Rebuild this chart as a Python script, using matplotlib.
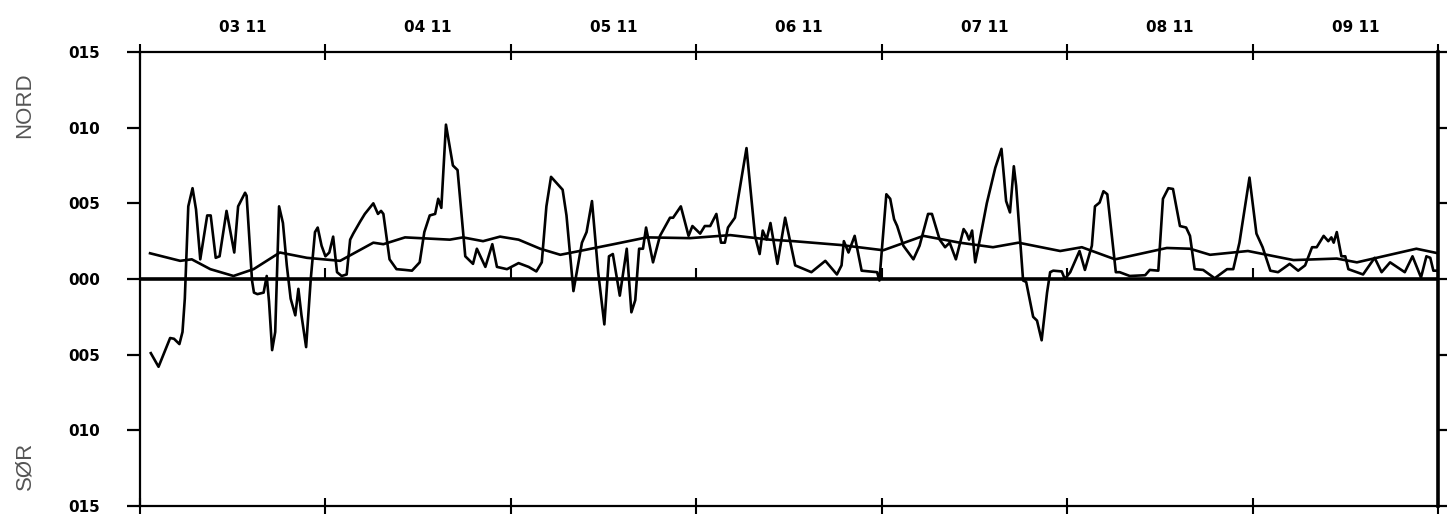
import numpy as np
import matplotlib
matplotlib.use('Agg')
import matplotlib.pyplot as plt

# hours from 03.11 00:00, current values (raw)
raw_t = [1.4, 2.4, 3.9, 4.4, 5.1, 5.5, 5.8, 6.25, 6.8, 7.25, 7.8, 8.7, 9.15, 9.8, 10.3,
         11.2, 12.2, 12.7, 13.6, 13.8, 14.5, 14.75, 15.2, 16.0, 16.4, 16.7, 17.1, 17.5,
         18.0, 18.5, 19.0, 19.5, 20.1, 20.5, 20.9, 21.5, 22.1, 22.65, 23.0, 23.5, 24.0,
         24.5, 25.0, 25.5, 26.1, 26.75, 27.2, 27.6, 28.5, 29.1, 30.2, 30.8, 31.2, 31.5,
         32.3, 33.2, 34.3, 35.2, 36.2, 36.8, 37.5, 38.2, 38.6, 39.0, 39.6, 40.5, 41.1,
         42.1, 43.1, 43.6, 44.7, 45.6, 46.2, 47.5, 49.0, 50.3, 51.3, 52.0, 52.6, 53.2,
         54.7, 55.2, 56.1, 57.2, 57.8, 58.5, 59.3, 60.1, 60.7, 61.2, 62.1, 63.0, 63.6,
         64.1, 64.6, 65.1, 65.5, 66.4, 67.3, 68.6, 69.0, 70.0, 71.0, 71.5, 72.5, 73.1,
         73.8, 74.6, 75.2, 75.7, 76.1, 77.0, 78.5, 79.6, 80.2, 80.6, 81.1, 81.6, 82.5,
         83.5, 84.8, 86.9, 88.7, 90.2, 90.8, 91.1, 91.7, 92.5, 93.4, 95.4, 95.7, 96.6,
         97.1, 97.6, 98.0, 98.8, 100.1, 100.9, 102.0, 102.5, 103.5, 104.2, 104.8, 105.6,
         106.6, 107.0, 107.3, 107.7, 108.1, 108.7, 109.6, 110.7, 111.5, 112.1, 112.6,
         113.1, 113.4, 114.3, 114.7, 115.6, 116.1, 116.7, 117.4, 117.8, 118.2, 119.3,
         119.7, 120.4, 121.6, 122.3, 123.2, 123.6, 124.2, 124.7, 125.2, 126.3, 126.8,
         128.1, 130.1, 130.7, 131.8, 132.4, 133.1, 133.7, 134.6, 135.4, 135.9, 136.5,
         137.6, 139.1, 140.7, 141.5, 142.3, 143.6, 144.5, 145.3, 146.3, 147.3, 148.8,
         149.9, 150.8, 151.7, 152.3, 153.2, 153.8, 154.2, 154.5, 154.9, 155.5, 156.0,
         156.4, 158.3, 159.8, 160.7, 161.8, 163.7, 164.7, 165.8, 166.5, 167.0, 167.4, 168.0]
raw_v = [-4.9, -5.8, -3.9, -3.95, -4.3, -3.5, -1.3, 4.8, 6.0, 4.6, 1.3, 4.2, 4.2, 1.4, 1.5,
         4.5, 1.75, 4.8, 5.7, 5.5, -0.1, -0.9, -1.0, -0.9, 0.2, -1.5, -4.7, -3.5,
         4.8, 3.7, 0.9, -1.3, -2.4, -0.65, -2.4, -4.5, 0.0, 3.1, 3.4, 2.2, 1.5,
         1.75, 2.8, 0.45, 0.2, 0.3, 2.6, 3.0, 3.8, 4.3, 5.0, 4.3, 4.5, 4.3,
         1.3, 0.65, 0.6, 0.55, 1.1, 3.1, 4.2, 4.3, 5.3, 4.7, 10.2, 7.5, 7.2,
         1.5, 1.0, 2.0, 0.8, 2.3, 0.8, 0.65, 1.05, 0.8, 0.5, 1.1, 4.8, 6.75,
         5.9, 4.2, -0.8, 2.4, 3.1, 5.15, 0.45, -3.0, 1.5, 1.65, -1.1, 2.0, -2.2,
         -1.4, 2.0, 2.0, 3.4, 1.1, 2.85, 4.05, 4.05, 4.8, 2.85, 3.5, 3.0, 3.5,
         3.5, 4.3, 2.4, 2.4, 3.4, 4.05, 8.65, 2.85, 1.65, 3.2, 2.6, 3.7, 1.0,
         4.05, 0.9, 0.45, 1.2, 0.3, 0.9, 2.5, 1.75, 2.85, 0.55, 0.45, -0.1, 5.6,
         5.3, 3.95, 3.5, 2.2, 1.3, 2.2, 4.3, 4.3, 2.6, 2.1, 2.4, 1.3,
         3.3, 3.0, 2.6, 3.2, 1.1, 2.6, 5.0, 7.35, 8.6, 5.15, 4.4,
         7.45, 6.15, -0.1, -0.2, -2.5, -2.75, -4.05, -0.9, 0.45, 0.55, 0.5,
         0.0, 0.45, 1.85, 0.6, 2.2, 4.8, 5.05, 5.8, 5.6, 0.45, 0.45,
         0.2, 0.25, 0.6, 0.55, 5.3, 6.0, 5.95, 3.5, 3.4, 2.85, 0.65,
         0.6, 0.05, 0.65, 0.65, 2.4, 6.7, 3.0, 2.1, 0.55, 0.45, 1.0,
         0.55, 0.9, 2.1, 2.1, 2.85, 2.5, 2.75, 2.4, 3.1, 1.5, 1.5,
         0.65, 0.3, 1.4, 0.45, 1.1, 0.45, 1.5, 0.1, 1.5, 1.4, 0.55, 0.55]

# smoothed (residual / mean) current
mean_t = [1.3, 5.2, 6.7, 9.1, 12.1, 14.7, 18.1, 21.6, 25.9, 30.2, 31.5, 34.3, 40.1, 41.8,
          44.4, 46.6, 49.0, 51.8, 54.4, 56.9, 61.3, 65.6, 71.2, 76.4, 81.5, 84.6, 90.6,
          96.2, 101.4, 106.1, 110.4, 113.7, 119.1, 121.9, 126.2, 132.9, 135.9, 138.5,
          143.4, 149.3, 154.9, 157.5, 165.2, 168.0]
mean_v = [1.7, 1.2, 1.3, 0.65, 0.2, 0.65, 1.75, 1.4, 1.2, 2.4, 2.3, 2.75, 2.6, 2.75,
          2.5, 2.8, 2.6, 2.0, 1.6, 1.85, 2.3, 2.75, 2.7, 2.9, 2.6, 2.5, 2.25,
          1.9, 2.85, 2.4, 2.1, 2.4, 1.85, 2.1, 1.3, 2.05, 2.0, 1.6,
          1.85, 1.25, 1.35, 1.1, 2.0, 1.7]

day_labels = ['03 11', '04 11', '05 11', '06 11', '07 11', '08 11', '09 11']
y_ticks = [-15, -10, -5, 0, 5, 10, 15]
y_labels = ['015', '010', '005', '000', '005', '010', '015']

FONT = 'DejaVu Sans'
day_edges = np.arange(0, 24 * len(day_labels) + 1, 24)

fig = plt.figure(figsize=(14.47, 5.14), dpi=100)
ax = fig.add_axes([140 / 1447, 1 - 506 / 514, 1298 / 1447, 454 / 514])

ax.plot(raw_t, raw_v, color='black', lw=1.9, zorder=3)
ax.plot(mean_t, mean_v, color='black', lw=1.9, zorder=3)
ax.axhline(0, color='black', lw=2.6, zorder=2)
# small day marks on the zero line
ax.vlines(day_edges[1:-1], 0, 0.7, color='black', lw=1.5, zorder=2)

ax.set_xlim(0, day_edges[-1])
ax.set_ylim(-15, 15)

for s in ax.spines.values():
    s.set_linewidth(1.6)
ax.spines['right'].set_linewidth(2.6)

ax.set_xticks(day_edges)
ax.set_xticklabels([])
ax.set_xticks(day_edges[:-1] + 13.3, minor=True)
ax.set_xticklabels(day_labels, minor=True, fontname=FONT, fontweight='bold', fontsize=11)
ax.tick_params(axis='x', which='major', top=True, bottom=True, direction='inout',
               length=12, width=1.5)
ax.tick_params(axis='x', which='minor', top=True, bottom=False, labeltop=True,
               labelbottom=False, length=0, pad=12)

ax.set_yticks(y_ticks)
ax.set_yticklabels(y_labels, fontname=FONT, fontweight='bold', fontsize=11)
ax.tick_params(axis='y', left=True, right=True, direction='out', length=9.5,
               width=1.6, pad=19)

fig.text(25 / 1447, 1 - 105 / 514, 'NORD', rotation=90, ha='center', va='center',
         fontname='Liberation Sans', fontsize=16, color='#555555')
fig.text(25 / 1447, 1 - 466 / 514, 'SØR', rotation=90, ha='center', va='center',
         fontname='Liberation Sans', fontsize=16, color='#555555')

fig.savefig('out.png', dpi=100)
